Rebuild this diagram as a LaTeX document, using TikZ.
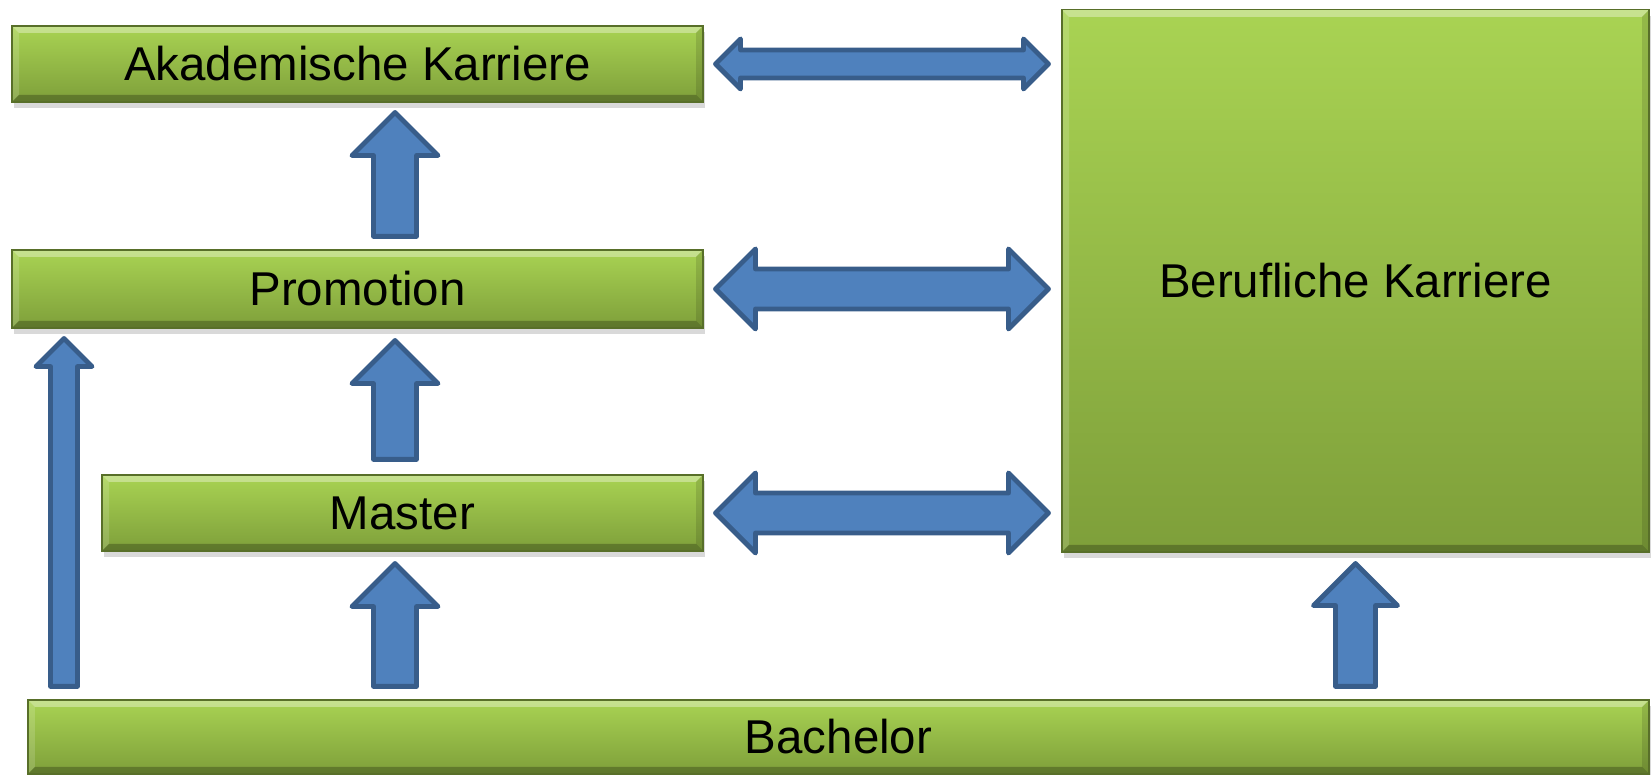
\documentclass[tikz,border=0pt]{standalone}
\usepackage{fontspec}
\setmainfont{Liberation Sans}
\usetikzlibrary{calc,shadows}
\definecolor{boxtop}{HTML}{A9D353}
\definecolor{boxbot}{HTML}{7E9F3A}
\definecolor{arrfill}{HTML}{4F81BD}
\definecolor{arrline}{HTML}{385D8A}
\tikzset{
  stage/.style={inner sep=0pt, top color=boxtop, bottom color=boxbot,
    draw=boxbot!70!black, line width=0.3pt,
    drop shadow={shadow xshift=0.6pt, shadow yshift=-1.6pt, opacity=0.3},
    font=\fontsize{13.5}{16}\selectfont,
    path picture={
      \coordinate (nw) at (path picture bounding box.north west);
      \coordinate (ne) at (path picture bounding box.north east);
      \coordinate (sw) at (path picture bounding box.south west);
      \coordinate (se) at (path picture bounding box.south east);
      \fill[white,opacity=.35] (nw) -- (ne) -- ([shift={(-0.07,-0.07)}]ne) -- ([shift={(0.07,-0.07)}]nw) -- cycle;
      \fill[white,opacity=.15] (nw) -- ([shift={(0.07,-0.07)}]nw) -- ([shift={(0.07,0.07)}]sw) -- (sw) -- cycle;
      \fill[black,opacity=.25] (sw) -- (se) -- ([shift={(-0.07,0.07)}]se) -- ([shift={(0.07,0.07)}]sw) -- cycle;
      \fill[black,opacity=.12] (ne) -- (se) -- ([shift={(-0.07,0.07)}]se) -- ([shift={(-0.07,-0.07)}]ne) -- cycle;
    }},
  blockarrow/.style={fill=arrfill, draw=arrline, line width=1.4pt, line join=round}
}
% block arrow pointing up: start, tip, shaft half width, head half width
\newcommand{\blockup}[4]{%
  \draw[blockarrow] let \p1=#1, \p2=#2 in
    (\x1-#3,\y1) -- (\x1+#3,\y1) -- (\x1+#3,\y2-#4) -- (\x1+#4,\y2-#4)
    -- (\x1,\y2) -- (\x1-#4,\y2-#4) -- (\x1-#3,\y2-#4) -- cycle;}
% block arrow with two heads: left tip, right tip, shaft half width, head half width
\newcommand{\blockboth}[4]{%
  \draw[blockarrow] let \p1=#1, \p2=#2 in
    (\x1,\y1) -- (\x1+#4,\y1+#4) -- (\x1+#4,\y1+#3) -- (\x2-#4,\y1+#3)
    -- (\x2-#4,\y1+#4) -- (\x2,\y1) -- (\x2-#4,\y1-#4) -- (\x2-#4,\y1-#3)
    -- (\x1+#4,\y1-#3) -- (\x1+#4,\y1-#4) -- cycle;}
\begin{document}
\begin{tikzpicture}
  \useasboundingbox (0,0) rectangle (16.51,7.75);
  \node [stage, minimum width=6.91cm, minimum height=0.76cm] (akad) at (3.575,7.11) {Akademische Karriere};
  \node [stage, minimum width=6.91cm, minimum height=0.78cm] (prom) at (3.575,4.86) {Promotion};
  \node [stage, minimum width=6.01cm, minimum height=0.76cm] (mast) at (4.025,2.62) {Master};
  \node [stage, minimum width=16.21cm, minimum height=0.74cm] (bach) at (8.385,0.38) {Bachelor};
  \node [stage, minimum width=5.87cm, minimum height=5.42cm] (beruf) at (13.555,4.94) {Berufliche Karriere};
  \coordinate (colA) at (3.95,0);
  \coordinate (colB) at (0.64,0);
  % upward steps
  \blockup{($(prom.north -| colA)+(0,0.13)$)}{($(akad.south -| colA)+(0,-0.10)$)}{0.215cm}{0.43cm}
  \blockup{($(mast.north -| colA)+(0,0.15)$)}{($(prom.south -| colA)+(0,-0.12)$)}{0.215cm}{0.43cm}
  \blockup{($(bach.north -| colA)+(0,0.13)$)}{($(mast.south -| colA)+(0,-0.12)$)}{0.215cm}{0.43cm}
  \blockup{($(bach.north -| colB)+(0,0.13)$)}{($(prom.south -| colB)+(0,-0.10)$)}{0.135cm}{0.28cm}
  \blockup{($(bach.north -| beruf.south)+(0,0.13)$)}{($(beruf.south)+(0,-0.11)$)}{0.20cm}{0.42cm}
  % links to the career box
  \blockboth{($(akad.east)+(0.12,0)$)}{($(beruf.west |- akad.east)+(-0.13,0)$)}{0.14cm}{0.25cm}
  \blockboth{($(prom.east)+(0.12,0)$)}{($(beruf.west |- prom.east)+(-0.13,0)$)}{0.20cm}{0.40cm}
  \blockboth{($(mast.east)+(0.12,0)$)}{($(beruf.west |- mast.east)+(-0.13,0)$)}{0.20cm}{0.40cm}
\end{tikzpicture}
\end{document}
